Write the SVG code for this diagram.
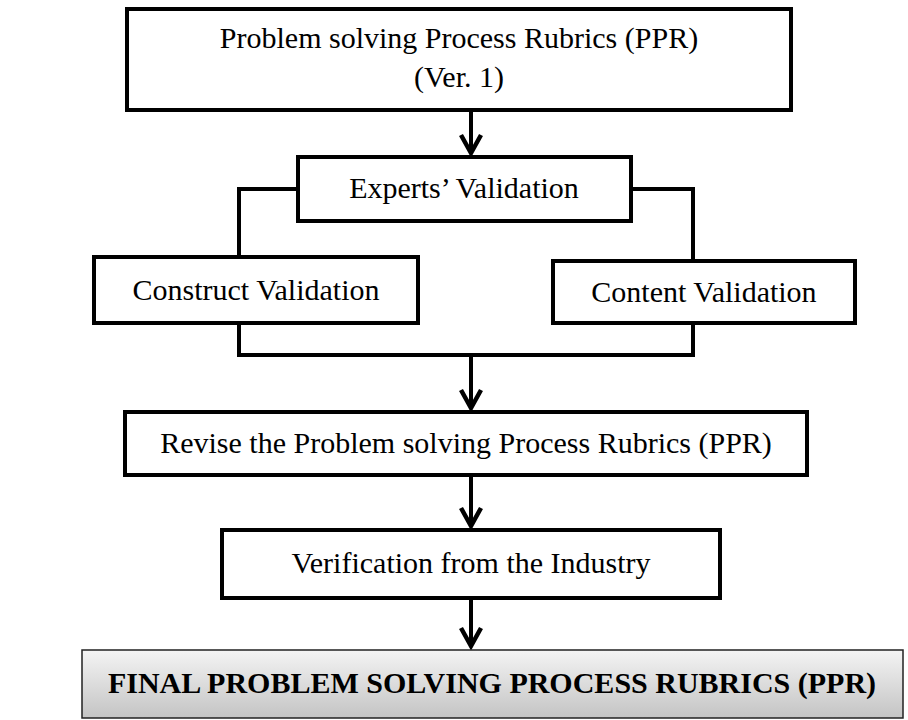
<svg xmlns="http://www.w3.org/2000/svg" width="908" height="720" viewBox="0 0 908 720">
<style>
.box{fill:#fff;stroke:#000;stroke-width:4}
.t{font-family:"Liberation Serif","Times New Roman",serif;font-size:30px;fill:#000;text-anchor:middle}
.b{font-weight:bold}
.c{fill:none;stroke:#000;stroke-width:4}
</style>
<defs>
<linearGradient id="g" x1="0" y1="0" x2="0" y2="1">
<stop offset="0" stop-color="#f4f4f4"/>
<stop offset="1" stop-color="#c4c4c4"/>
</linearGradient>
<marker id="ah" markerUnits="userSpaceOnUse" viewBox="-24 -14 28 28" markerWidth="28" markerHeight="28" refX="0" refY="0" orient="auto">
<path d="M-18,-10 L0,0 L-18,10" fill="none" stroke="#000" stroke-width="4.5"/>
</marker>
</defs>
<rect width="908" height="720" fill="#fff"/>
<g id="connectors">
<path class="c" d="M471,110 V153" marker-end="url(#ah)"/>
<path class="c" d="M298,189 H239 V257"/>
<path class="c" d="M631,189 H693 V261"/>
<path class="c" d="M239,323 V355 H693 V323"/>
<path class="c" d="M471,355 V408" marker-end="url(#ah)"/>
<path class="c" d="M471,475 V526" marker-end="url(#ah)"/>
<path class="c" d="M471,598 V646" marker-end="url(#ah)"/>
</g>
<g id="ppr-v1">
<rect class="box" x="127" y="9" width="664" height="101"/>
<text class="t" x="459" y="48">Problem solving Process Rubrics (PPR)</text>
<text class="t" x="459" y="87">(Ver. 1)</text>
</g>
<g id="experts">
<rect class="box" x="298" y="157" width="333" height="64"/>
<text class="t" x="464" y="198">Experts’ Validation</text>
</g>
<g id="construct">
<rect class="box" x="94" y="257" width="324" height="66"/>
<text class="t" x="256" y="300">Construct Validation</text>
</g>
<g id="content">
<rect class="box" x="553" y="261" width="302" height="62"/>
<text class="t" x="704" y="302">Content Validation</text>
</g>
<g id="revise">
<rect class="box" x="125" y="412" width="682" height="63"/>
<text class="t" x="466" y="453">Revise the Problem solving Process Rubrics (PPR)</text>
</g>
<g id="verification">
<rect class="box" x="222" y="530" width="498" height="68"/>
<text class="t" x="471" y="573">Verification from the Industry</text>
</g>
<g id="final">
<rect x="82" y="650" width="821" height="68" fill="url(#g)" stroke="#222" stroke-width="1.5"/>
<text class="t b" x="492" y="693">FINAL PROBLEM SOLVING PROCESS RUBRICS (PPR)</text>
</g>
</svg>
